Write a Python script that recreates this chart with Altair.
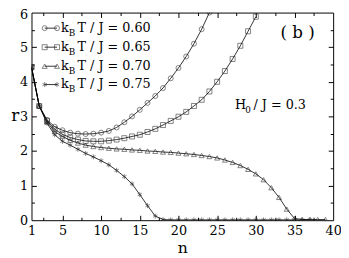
import altair as alt
import pandas as pd

# ---- data ----
n_060 = list(range(1, 25))
r_060 = [4.42, 3.30, 2.90, 2.70, 2.60, 2.53, 2.50, 2.49, 2.50, 2.53, 2.58, 2.68,
         2.83, 3.00, 3.19, 3.39, 3.59, 3.82, 4.10, 4.40, 4.73, 5.10, 5.52, 6.00]

n_065 = list(range(1, 31))
r_065 = [4.42, 3.30, 2.87, 2.63, 2.48, 2.39, 2.33, 2.29, 2.28, 2.28, 2.30, 2.33,
         2.37, 2.42, 2.47, 2.55, 2.64, 2.75, 2.87, 2.99, 3.13, 3.30, 3.48, 3.72,
         4.00, 4.31, 4.66, 5.04, 5.46, 5.88]

n_070 = list(range(1, 40))
r_070 = [4.42, 3.30, 2.84, 2.56, 2.42, 2.31, 2.23, 2.17, 2.13, 2.10, 2.08, 2.06,
         2.05, 2.03, 2.02, 2.00, 1.99, 1.97, 1.96, 1.94, 1.92, 1.90, 1.87, 1.84,
         1.80, 1.74, 1.67, 1.58, 1.47, 1.34, 1.17, 0.94, 0.66, 0.32, 0.05, 0.02,
         0.02, 0.02, 0.02]

n_075 = list(range(1, 38))
r_075 = [4.42, 3.30, 2.80, 2.47, 2.28, 2.17, 2.05, 1.93, 1.83, 1.72, 1.60, 1.44,
         1.26, 1.05, 0.74, 0.42, 0.12, 0.02, 0.01, 0.01, 0.01, 0.01, 0.01, 0.01,
         0.01, 0.01, 0.01, 0.01, 0.01, 0.01, 0.01, 0.01, 0.01, 0.01, 0.01, 0.01,
         0.01]

series = ["0.60", "0.65", "0.70", "0.75"]
x_label_values = [1, 5, 10, 15, 20, 25, 30, 35, 40]
x_tick_values = [2.5, 5, 7.5, 10, 12.5, 15, 17.5, 20, 22.5, 25, 27.5, 30, 32.5, 35, 37.5]
y_label_values = [0, 1, 2, 3, 4, 5, 6]
y_tick_values = [0.5, 1, 1.5, 2, 2.5, 3, 3.5, 4, 4.5, 5, 5.5]

# legend rows (data coordinates)
legend_r = [5.55, 5.00, 4.45, 3.92]
legend_n1, legend_n2, legend_text_n = 2.7, 4.3, 4.8

rows = []
for s, ns, rs in zip(series, [n_060, n_065, n_070, n_075], [r_060, r_065, r_070, r_075]):
    for a, b in zip(ns, rs):
        rows.append({"T": s, "n": a, "r": b})
df = pd.DataFrame(rows)

leg = pd.DataFrame({"T": series, "r": legend_r, "n1": legend_n1, "n2": legend_n2,
                    "nt": legend_text_n, "txt": ["T / J = " + s for s in series]})
leg_pts = pd.concat([leg.assign(n=legend_n1), leg.assign(n=legend_n2)])

W, H = 308, 212
FONT = "DejaVu Serif"
STAR = "M0,-1L0,1M-0.87,-0.5L0.87,0.5M-0.87,0.5L0.87,-0.5"

xs = alt.Scale(domain=[1, 40], nice=False, zero=False)
ys = alt.Scale(domain=[0, 6], nice=False, zero=False)
shape_scale = alt.Scale(domain=series, range=["circle", "square", "triangle-up", STAR])
sw_scale = alt.Scale(domain=series, range=[0.8, 0.8, 0.8, 1.4])

tick_y = {"condition": {"test": "datum.value % 1 === 0", "value": 5}, "value": 3}
tick_x = {"condition": {"test": "datum.value % 5 === 0", "value": 5}, "value": 3}

def tick_axis(orient, values, size, offset):
    return alt.Axis(orient=orient, values=values, tickSize=size, offset=offset,
                    labels=False, domain=False, grid=False, title=None,
                    tickColor="black", tickWidth=1)

lines = alt.Chart(df).mark_line(color="black", strokeWidth=0.8, clip=True).encode(
    x=alt.X("n:Q", scale=xs, axis=alt.Axis(
        orient="bottom", values=x_label_values, ticks=False, domain=False, grid=False,
        labelFont=FONT, labelFontSize=13, labelColor="black", labelPadding=5,
        labelOverlap=False, labelFlush=False,
        title="n", titleFont=FONT, titleFontSize=16, titleFontWeight="normal",
        titleColor="black", titlePadding=2)),
    y=alt.Y("r:Q", scale=ys, axis=alt.Axis(
        orient="left", values=y_label_values, ticks=False, domain=False, grid=False,
        labelFont=FONT, labelFontSize=13, labelColor="black", labelPadding=4,
        labelOverlap=False, labelFlush=False,
        labelOffset={"condition": {"test": "datum.value === 6", "value": 2}, "value": 0},
        title="r", titleFont=FONT, titleFontSize=17, titleFontWeight="normal",
        titleColor="black", titleAngle=0, titleAlign="center",
        titleBaseline="middle", titleX=-17, titleY=105)),
    detail="T:N",
)

points = alt.Chart(df).mark_point(filled=False, size=26, color="#222", clip=True).encode(
    x=alt.X("n:Q", scale=xs, axis=None),
    y=alt.Y("r:Q", scale=ys, axis=None),
    shape=alt.Shape("T:N", scale=shape_scale, legend=None),
    strokeWidth=alt.StrokeWidth("T:N", scale=sw_scale, legend=None),
)

ticks_a = alt.Chart(df).mark_point(opacity=0).encode(
    x=alt.X("n:Q", scale=xs, axis=tick_axis("top", x_tick_values, tick_x, -H)),
    y=alt.Y("r:Q", scale=ys, axis=tick_axis("right", y_tick_values, tick_y, -W)),
)
ticks_b = alt.Chart(df).mark_point(opacity=0).encode(
    x=alt.X("n:Q", scale=xs, axis=tick_axis("bottom", x_tick_values, tick_x, -H)),
    y=alt.Y("r:Q", scale=ys, axis=tick_axis("left", y_tick_values, tick_y, -W)),
)

leg_lines = alt.Chart(leg).mark_rule(color="black", strokeWidth=0.8).encode(
    x=alt.X("n1:Q", scale=xs, axis=None), x2="n2:Q",
    y=alt.Y("r:Q", scale=ys, axis=None),
)
leg_points = alt.Chart(leg_pts).mark_point(filled=False, size=26, color="#222").encode(
    x=alt.X("n:Q", scale=xs, axis=None),
    y=alt.Y("r:Q", scale=ys, axis=None),
    shape=alt.Shape("T:N", scale=shape_scale, legend=None),
    strokeWidth=alt.StrokeWidth("T:N", scale=sw_scale, legend=None),
)
base_leg = alt.Chart(leg).encode(x=alt.X("nt:Q", scale=xs, axis=None),
                                 y=alt.Y("r:Q", scale=ys, axis=None))
leg_k = base_leg.mark_text(font=FONT, fontSize=13, align="left", baseline="middle",
                           color="black").encode(text=alt.value("k"))
leg_B = base_leg.mark_text(font=FONT, fontSize=9, align="left", baseline="middle",
                           color="black", dx=8, dy=5).encode(text=alt.value("B"))
leg_T = base_leg.mark_text(font=FONT, fontSize=13, align="left", baseline="middle",
                           color="black", dx=17).encode(text="txt:N")

ann = pd.DataFrame({"n": [35.4], "r": [5.41], "txt": ["( b )"]})
label_b = alt.Chart(ann).mark_text(font=FONT, fontSize=17, align="center",
                                   baseline="middle", color="black").encode(
    x=alt.X("n:Q", scale=xs, axis=None), y=alt.Y("r:Q", scale=ys, axis=None),
    text="txt:N")

h0 = pd.DataFrame({"n": [27.3], "r": [3.2]})
base_h = alt.Chart(h0).encode(x=alt.X("n:Q", scale=xs, axis=None),
                              y=alt.Y("r:Q", scale=ys, axis=None))
h_H = base_h.mark_text(font=FONT, fontSize=13, align="left", baseline="alphabetic",
                       color="black").encode(text=alt.value("H"))
h_0 = base_h.mark_text(font=FONT, fontSize=9, align="left", baseline="alphabetic",
                       color="black", dx=10.5, dy=4).encode(text=alt.value("0"))
h_rest = base_h.mark_text(font=FONT, fontSize=13, align="left", baseline="alphabetic",
                          color="black", dx=19).encode(text=alt.value("/ J = 0.3"))

chart = alt.layer(
    lines, points, ticks_a, ticks_b, leg_lines, leg_points, leg_k, leg_B, leg_T,
    label_b, h_H, h_0, h_rest
).resolve_axis(x="independent", y="independent").properties(
    width=W, height=H,
    autosize=alt.AutoSizeParams(type="none"),
    padding={"left": 24, "top": 2, "right": 8, "bottom": 40},
    background="white",
).configure_view(stroke="black", strokeWidth=1)

chart.save("out.html", embed_options={"renderer": "svg", "actions": False})
